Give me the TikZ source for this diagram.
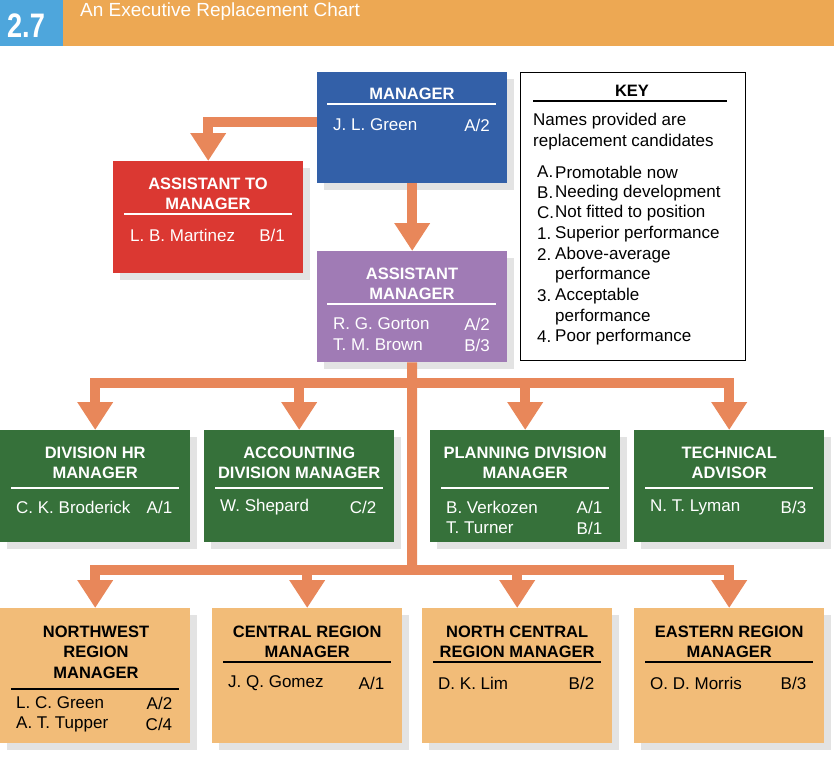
\documentclass[tikz,border=0pt]{standalone}
\usepackage{fontspec}
\setmainfont{Liberation Sans}
\usetikzlibrary{arrows.meta,shadows}
\definecolor{hdr}{HTML}{EDA853}
\definecolor{hblue}{HTML}{4EA6DC}
\definecolor{mblue}{HTML}{3360A8}
\definecolor{mred}{HTML}{DB3832}
\definecolor{mpurp}{HTML}{A07BB5}
\definecolor{mgreen}{HTML}{36713A}
\definecolor{mtan}{HTML}{F2BC78}
\definecolor{arr}{HTML}{E8875A}
\begin{document}
\begin{tikzpicture}[x=1pt,y=-1pt,
  box/.style={anchor=north west,inner sep=0,minimum width=190pt,draw=none,
    drop shadow={shadow xshift=7pt,shadow yshift=-7pt,fill=black!11,opacity=1}},
  ttl/.style={font=\fontsize{16.5}{20.5}\selectfont\bfseries,align=center,inner sep=0},
  txt/.style={font=\fontsize{17}{18}\selectfont,inner sep=0},
  link/.style={arr,line width=10pt},
  tip/.style={-{Triangle[width=34pt,length=28pt]}},
  rule/.style={line width=1.3pt}]
\useasboundingbox (0,0) rectangle (834,768);
% header
\fill[hdr] (63,0) rectangle (834,46);
\fill[hblue] (0,0) rectangle (63,46);
\node[anchor=center,text=white,font=\fontsize{34}{34}\selectfont\bfseries,inner sep=0,xscale=0.8] (fig) at (26,26) {2.7};
\node[anchor=west,text=white,font=\fontsize{19}{20}\selectfont,inner sep=0] (title) at (80,12) {An Executive Replacement Chart};
% boxes
\node[box,fill=mblue,minimum height=111pt] (mgr) at (317,72) {};
\node[box,fill=mred,minimum height=112pt] (atm) at (113,161) {};
\node[box,fill=mpurp,minimum height=111pt] (am) at (317,251) {};
\node[anchor=north west,draw,line width=1.3pt,minimum width=225pt,minimum height=288pt,inner sep=0] (key) at (520,72) {};
\foreach \n/\x in {d1/0,d2/204,d3/430,d4/634}
  \node[box,fill=mgreen,minimum height=112pt] (\n) at (\x,430) {};
\foreach \n/\x in {r1/0,r2/212,r3/422,r4/634}
  \node[box,fill=mtan,minimum height=135pt] (\n) at (\x,608) {};
% connectors
\draw[link,tip] (mgr.south) -- (am.north);
\coordinate (ml) at (317,122);
\draw[link,tip] (ml) -| (atm.north);
\coordinate (b1) at (412,383);
\coordinate (b2) at (412,570);
\draw[link] (am.south) -- (b2);
\draw[link,line cap=rect] (d1.north |- b1) -- (d4.north |- b1);
\draw[link,line cap=rect] (r1.north |- b2) -- (r4.north |- b2);
\foreach \n in {d1,d2,d3,d4} \draw[link,tip] (\n.north |- b1) -- (\n.north);
\foreach \n in {r1,r2,r3,r4} \draw[link,tip] (\n.north |- b2) -- (\n.north);
% manager
\node[ttl,text=white] (t1) at (412,94) {MANAGER};
\draw[white,rule] (327,104) -- (496,104);
\node[txt,text=white,anchor=west] (n1) at (333,125) {J. L. Green};
\node[txt,text=white,anchor=east] (g1) at (490,125) {A/2};
% asst to mgr
\node[ttl,text=white] (t2) at (208,194) {ASSISTANT TO\\MANAGER};
\draw[white,rule] (124,214) -- (292,214);
\node[txt,text=white,anchor=west] (n2) at (130,235) {L. B. Martinez};
\node[txt,text=white,anchor=east] (g2) at (285,235) {B/1};
% asst mgr
\node[ttl,text=white] (t3) at (412,284) {ASSISTANT\\MANAGER};
\draw[white,rule] (327,304) -- (496,304);
\node[txt,text=white,anchor=west] (n3) at (333,324) {R. G. Gorton};
\node[txt,text=white,anchor=east] (g3) at (490,324) {A/2};
\node[txt,text=white,anchor=west] (n3b) at (333,345) {T. M. Brown};
\node[txt,text=white,anchor=east] (g3b) at (490,345) {B/3};
% key
\node[ttl] (kt) at (632,91) {KEY};
\draw[rule] (533,101) -- (727,101);
\node[txt,anchor=west] (k0) at (533,121) {Names provided are};
\node[txt,anchor=west] (k0b) at (533,142) {replacement candidates};
\foreach \l/\t/\y in {A./Promotable now/172,B./Needing development/193,C./Not fitted to position/213,1./Superior performance/234,2./Above-average/255,/performance/275,3./Acceptable/296,/performance/317,4./Poor performance/337}{
  \node[txt,anchor=west] at (537,\y) {\l};
  \node[txt,anchor=west] at (555,\y) {\t};}
% division row
\foreach \n/\a/\b in {d1/DIVISION HR/MANAGER,d2/ACCOUNTING/DIVISION MANAGER,d3/PLANNING DIVISION/MANAGER,d4/TECHNICAL/ADVISOR}{
  \node[ttl,text=white] at ([yshift=-33pt]\n.north) {\a\\\b};
  \draw[white,rule] ([xshift=11pt,yshift=-58pt]\n.north west) -- ([xshift=-11pt,yshift=-58pt]\n.north east);}
\foreach \n/\nm/\g/\y in {d1/C. K. Broderick/{A/1}/507,d2/W. Shepard/{C/2}/507,d3/B. Verkozen/{A/1}/507,d3/T. Turner/{B/1}/528,d4/N. T. Lyman/{B/3}/507}{
  \coordinate (tmp) at (0,\y);
  \node[txt,text=white,anchor=west] at ([xshift=16pt]\n.west |- tmp) {\nm};
  \node[txt,text=white,anchor=east] at ([xshift=-18pt]\n.east |- tmp) {\g};}
% region row
\node[ttl] (rt1) at (96,652) {NORTHWEST\\REGION\\MANAGER};
\draw[rule] (11,689) -- (179,689);
\foreach \n/\a/\b in {r2/CENTRAL REGION/MANAGER,r3/NORTH CENTRAL/REGION MANAGER,r4/EASTERN REGION/MANAGER}{
  \node[ttl] at ([yshift=-34pt]\n.north) {\a\\\b};
  \draw[rule] ([xshift=11pt,yshift=-54pt]\n.north west) -- ([xshift=-11pt,yshift=-54pt]\n.north east);}
\foreach \n/\nm/\g/\y in {r1/L. C. Green/{A/2}/703,r1/A. T. Tupper/{C/4}/724,r2/J. Q. Gomez/{A/1}/683,r3/D. K. Lim/{B/2}/683,r4/O. D. Morris/{B/3}/683}{
  \coordinate (tmp) at (0,\y);
  \node[txt,anchor=west] at ([xshift=16pt]\n.west |- tmp) {\nm};
  \node[txt,anchor=east] at ([xshift=-18pt]\n.east |- tmp) {\g};}
\end{tikzpicture}
\end{document}
